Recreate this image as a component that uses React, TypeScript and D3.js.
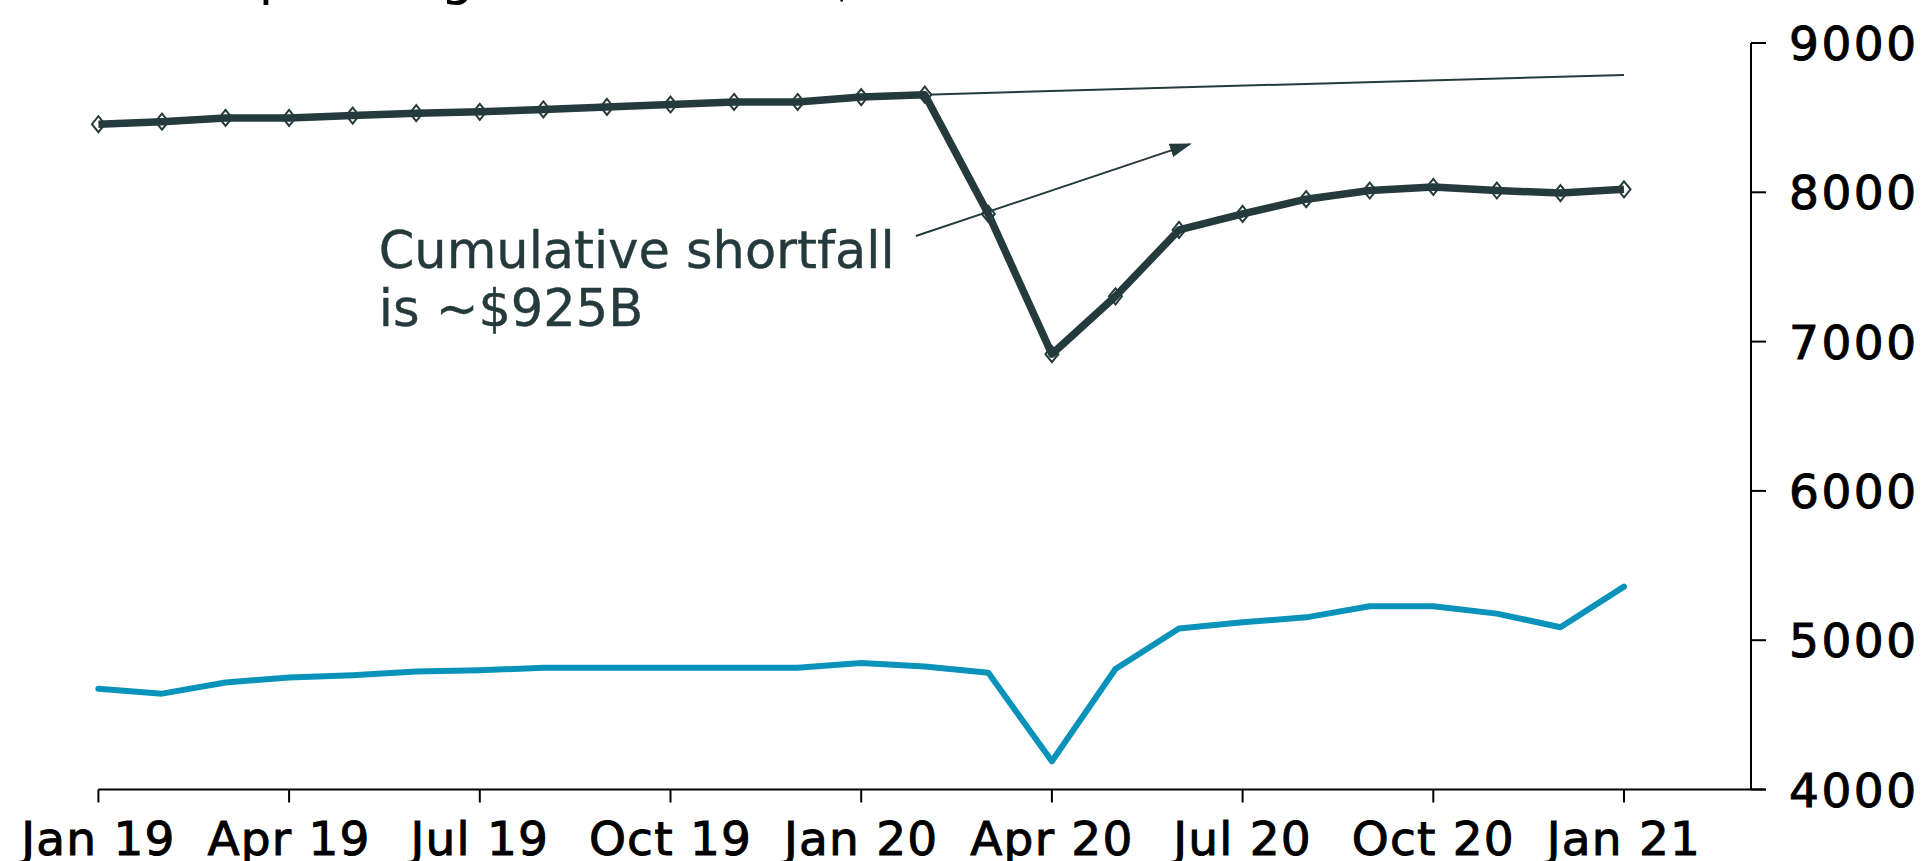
import React from "react";
import * as d3 from "d3";

// ---- data (billions, monthly Jan 2019 .. Jan 2021) ----
const months: string[] = [
  "2019-01","2019-02","2019-03","2019-04","2019-05","2019-06","2019-07","2019-08","2019-09","2019-10","2019-11","2019-12",
  "2020-01","2020-02","2020-03","2020-04","2020-05","2020-06","2020-07","2020-08","2020-09","2020-10","2020-11","2020-12",
  "2021-01",
];
const services: number[] = [
  8456, 8473, 8498, 8498, 8514, 8530, 8539, 8555, 8572, 8588, 8605, 8605,
  8638, 8654, 7855, 6916, 7303, 7748, 7855, 7954, 8012, 8036, 8012, 7995,
  8020,
];
const goods: number[] = [
  4675, 4642, 4717, 4750, 4766, 4791, 4799, 4815, 4815, 4815, 4815, 4815,
  4848, 4824, 4782, 4189, 4807, 5079, 5120, 5153, 5227, 5227, 5178, 5087,
  5359,
];
// pre-pandemic trend for services: from Feb 2020 to Jan 2021
const trendStartIndex = 13;
const trendEndValue = 8786;

const xTickIndex: number[] = [0, 3, 6, 9, 12, 15, 18, 21, 24];
const xTickLabels: string[] = ["Jan 19", "Apr 19", "Jul 19", "Oct 19", "Jan 20", "Apr 20", "Jul 20", "Oct 20", "Jan 21"];
const yTicks: number[] = [4000, 5000, 6000, 7000, 8000, 9000];

const titleText = "Real spending on services, $B";
const annotationLines: string[] = ["Cumulative shortfall", "is ~$925B"];

// ---- layout ----
const W = 1928;
const H = 861;
const DARK = "#253a3d";
const BLUE = "#0993ba";
const FONT = "'DejaVu Sans', sans-serif";

export default function App() {
  const x = d3.scaleLinear().domain([0, months.length - 1]).range([98.4, 1624]);
  const y = d3.scaleLinear().domain([4000, 9000]).range([789.5, 43]);
  const axisX = 1751;
  const axisY = y(4000);

  const line = d3
    .line<number>()
    .x((_, i) => x(i))
    .y((d) => y(d));

  const trendPath = d3.line<[number, number]>()
    .x((d) => x(d[0]))
    .y((d) => y(d[1]))([
    [trendStartIndex, services[trendStartIndex]],
    [months.length - 1, trendEndValue],
  ]);

  const diamond = (cx: number, cy: number) =>
    `M${cx},${cy - 8}L${cx + 6.5},${cy}L${cx},${cy + 8}L${cx - 6.5},${cy}Z`;

  // annotation anchored in data space
  const arrowFrom = { i: 12.86, v: 7707 };
  const arrowTo = { i: 17.17, v: 8323 };
  const textAt = { i: 4.41, v: 7493 };

  return (
    <>
      <style>{`body{margin:0;overflow:hidden}`}</style>
      <svg
        width={W}
        height={H}
        style={{ position: "absolute", left: 0, top: 0, background: "#fff" }}
      >
        <defs>
          <marker
            id="arrowhead"
            markerUnits="userSpaceOnUse"
            markerWidth={22}
            markerHeight={16}
            refX={20}
            refY={8}
            orient="auto"
          >
            <path d="M0,1 L22,8 L0,15 Z" fill={DARK} />
          </marker>
        </defs>

        {/* title (mostly above the visible area) */}
        <text x={100} y={-6} fontFamily={FONT} fontSize={53} fill="#000">
          {titleText}
        </text>

        {/* axes */}
        <line x1={x(0)} x2={axisX + 15} y1={axisY} y2={axisY} stroke="#000" strokeWidth={2} />
        {xTickIndex.map((ti, k) => (
          <g key={ti}>
            <line x1={x(ti)} x2={x(ti)} y1={axisY} y2={axisY + 13} stroke="#000" strokeWidth={2} />
            <text
              x={x(ti)}
              y={855}
              textAnchor="middle"
              fontFamily={FONT}
              fontSize={47}
              letterSpacing={1.2}
              fill="#000"
              stroke="#000"
              strokeWidth={1}
            >
              {xTickLabels[k]}
            </text>
          </g>
        ))}
        <line x1={axisX} x2={axisX} y1={y(9000)} y2={axisY} stroke="#000" strokeWidth={2} />
        {yTicks.map((v) => (
          <g key={v}>
            <line x1={axisX} x2={axisX + 15} y1={y(v)} y2={y(v)} stroke="#000" strokeWidth={2} />
            <text
              x={1789}
              y={y(v) + 17}
              fontFamily={FONT}
              fontSize={47}
              letterSpacing={2.5}
              fill="#000"
              stroke="#000"
              strokeWidth={1}
            >
              {v}
            </text>
          </g>
        ))}

        {/* trend line */}
        <path d={trendPath ?? ""} fill="none" stroke={DARK} strokeWidth={2} />

        {/* goods */}
        <path d={line(goods) ?? ""} fill="none" stroke={BLUE} strokeWidth={6} strokeLinejoin="round" strokeLinecap="round" />

        {/* services markers then line */}
        {services.map((v, i) => (
          <path key={i} d={diamond(x(i), y(v))} fill="#fff" stroke={DARK} strokeWidth={2} />
        ))}
        <path d={line(services) ?? ""} fill="none" stroke={DARK} strokeWidth={7.5} strokeLinejoin="round" />

        {/* annotation */}
        <line
          x1={x(arrowFrom.i)}
          y1={y(arrowFrom.v)}
          x2={x(arrowTo.i)}
          y2={y(arrowTo.v)}
          stroke={DARK}
          strokeWidth={2}
          markerEnd="url(#arrowhead)"
        />
        {annotationLines.map((t, k) => (
          <text
            key={k}
            x={x(textAt.i)}
            y={y(textAt.v) + k * 58}
            fontFamily={FONT}
            fontSize={51}
            fill={DARK}
            stroke={DARK}
            strokeWidth={0.4}
          >
            {t}
          </text>
        ))}
      </svg>
    </>
  );
}
